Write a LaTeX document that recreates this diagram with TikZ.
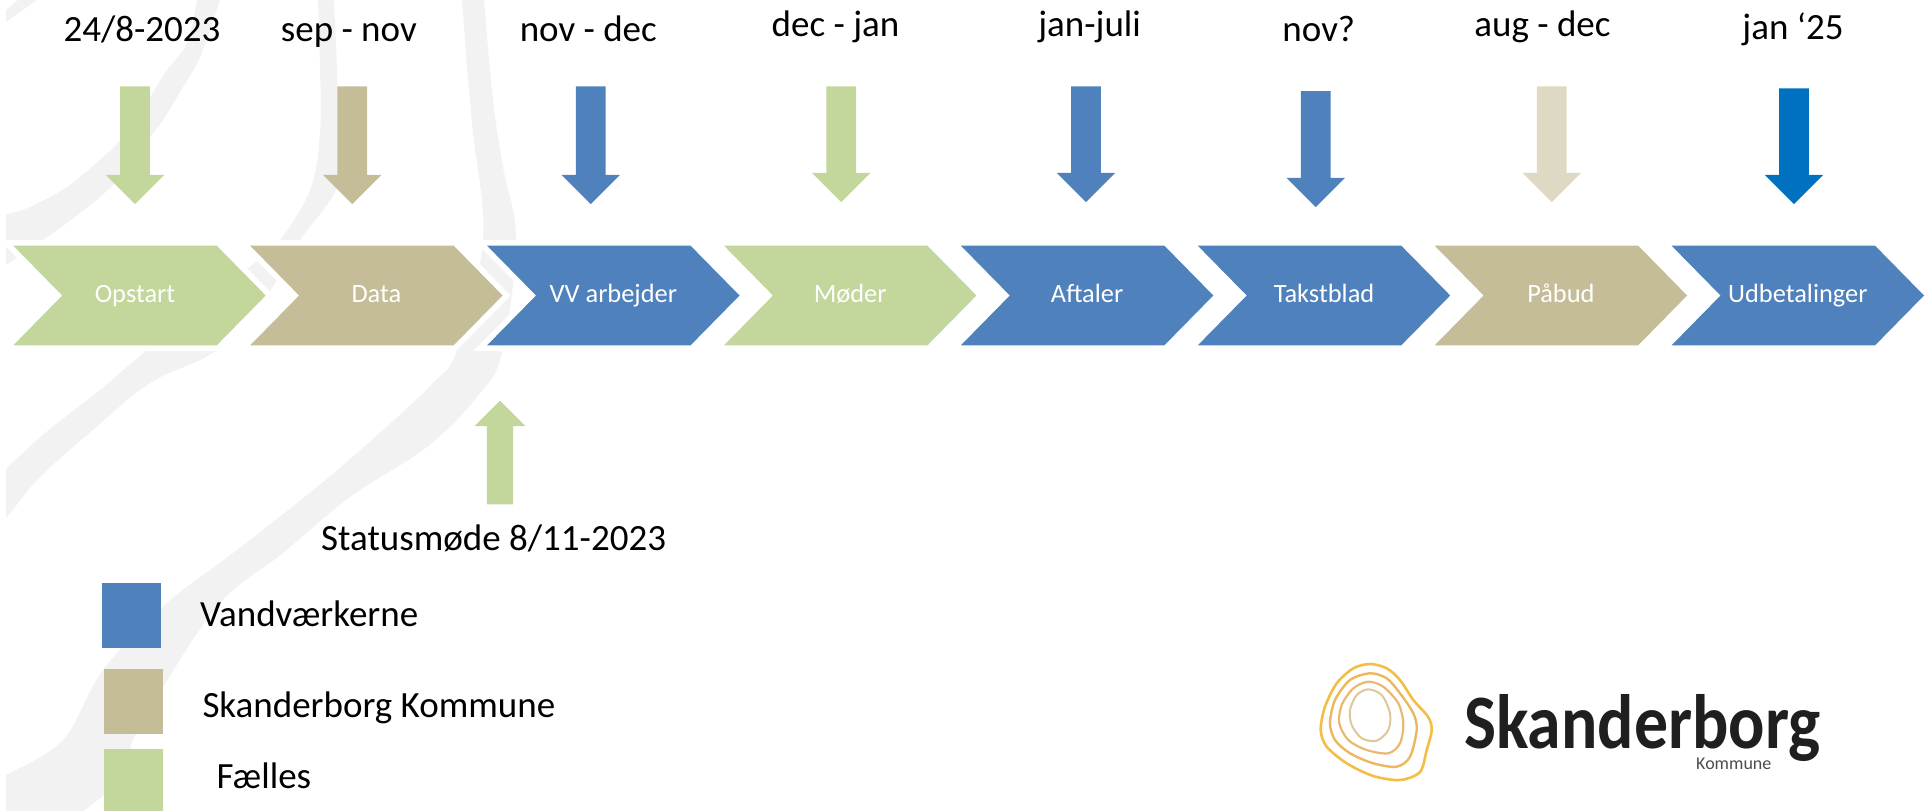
\documentclass[tikz,border=0pt]{standalone}
\usepackage{fontspec}
\setmainfont{Carlito}
\usetikzlibrary{shapes.arrows,shapes.symbols}
\definecolor{fgreen}{HTML}{C3D69B}
\definecolor{ftan}{HTML}{C4BD97}
\definecolor{fblue}{HTML}{4F81BD}
\definecolor{fpale}{HTML}{DDD9C3}
\definecolor{fdeep}{HTML}{0070C0}
\definecolor{fswoosh}{HTML}{F2F2F2}
\definecolor{ringa}{HTML}{F3BE45}
\definecolor{ringb}{HTML}{EDB75E}
\definecolor{ringc}{HTML}{E9B872}
\definecolor{ringd}{HTML}{DFC79C}
\begin{document}
\begin{tikzpicture}[x=1pt,y=1pt]
\tikzstyle{every node}+=[inner sep=0pt]
\tikzstyle{stepbase}=[shape=signal,signal from=west,signal to=east,signal pointer angle=91,minimum width=252.4,minimum height=99.6,text=white,text height=20,text depth=5.6,font=\fontsize{26.4}{30}\selectfont,preaction={draw=white,line width=11.4}]
\tikzstyle{downarrow}=[shape=single arrow,single arrow head extend=14.35,single arrow tip angle=90,single arrow head indent=0,text height=29.3,rotate=-90]
\tikzstyle{uparrow}=[shape=single arrow,single arrow head extend=12.3,single arrow tip angle=90,single arrow head indent=0,text height=26,rotate=90]
\tikzstyle{datetext}=[anchor=base,font=\fontsize{37}{40}\selectfont]
\tikzstyle{legendtext}=[anchor=base west,font=\fontsize{37}{40}\selectfont]
\useasboundingbox (0,0) rectangle (1930,-811);
\begin{scope}
\clip (6,0) rectangle (1930,-811);
\fill [fswoosh] (6,-10) -- (18,0) -- (37,0) -- (6,-22) -- cycle;
\fill [fswoosh] plot [smooth cycle,tension=0.6] coordinates {(-10,-225) (30,-207) (67,-187) (103,-157) (120,-140) (150,-97) (167,-70) (187,-43) (197,0) (198,10) (222,10) (220,0) (200,-57) (183,-87) (163,-120) (150,-137) (120,-177) (100,-197) (67,-223) (43,-240) (6,-265) (-10,-275)};
\fill [fswoosh] plot [smooth cycle,tension=0.6] coordinates {(318,10) (318,0) (320,-67) (320,-133) (310,-190) (280,-240) (252,-265) (147,-350) (100,-390) (37,-440) (-10,-490) (-10,-530) (6,-518) (40,-477) (93,-430) (150,-383) (217,-350) (267,-295) (300,-240) (337,-187) (338,-133) (337,-67) (334,0) (334,10)};
\fill [fswoosh] plot [smooth cycle,tension=0.6] coordinates {(461,10) (462,0) (467,-67) (473,-133) (483,-240) (457,-350) (433,-383) (383,-430) (317,-487) (233,-553) (167,-603) (103,-670) (63,-740) (6,-775) (-10,-785) (-10,-830) (50,-830) (120,-780) (133,-740) (163,-687) (220,-603) (283,-553) (350,-497) (427,-447) (477,-397) (502,-353) (516,-240) (503,-167) (493,-100) (484,0) (484,10)};
\end{scope}
\draw (139.5,-295.5) node (s1) [stepbase,fill=fgreen] {\hspace*{-9pt}Opstart};
\draw (376.4,-295.5) node (s2) [stepbase,fill=ftan] {Data};
\draw (613.3,-295.5) node (s3) [stepbase,fill=fblue] {VV arbejder};
\draw (850.2,-295.5) node (s4) [stepbase,fill=fgreen] {Møder};
\draw (1087.1,-295.5) node (s5) [stepbase,fill=fblue] {Aftaler};
\draw (1324,-295.5) node (s6) [stepbase,fill=fblue] {Takstblad};
\draw (1560.9,-295.5) node (s7) [stepbase,fill=ftan] {Påbud};
\draw (1797.8,-295.5) node (s8) [stepbase,fill=fblue] {Udbetalinger};
\draw (135,-137.85) node (a1) [downarrow,minimum height=117.7,fill=fgreen] {};
\draw (352.3,-137.85) node (a2) [downarrow,minimum height=117.7,fill=ftan] {};
\draw (590.7,-137.85) node (a3) [downarrow,minimum height=117.7,fill=fblue] {};
\draw (841.3,-136.85) node (a4) [downarrow,minimum height=115.7,fill=fgreen] {};
\draw (1086,-136.85) node (a5) [downarrow,minimum height=115.7,fill=fblue] {};
\draw (1315.7,-141.7) node (a6) [downarrow,minimum height=116,fill=fblue] {};
\draw (1551.7,-136.85) node (a7) [downarrow,minimum height=115.7,fill=fpale] {};
\draw (1794,-138.85) node (a8) [downarrow,minimum height=115.7,fill=fdeep] {};
\draw (500,-459) node (a9) [uparrow,minimum height=103.7,fill=fgreen] {};
\draw (142,-41.7) node (d1) [datetext] {24/8-2023};
\draw (348.8,-41) node (d2) [datetext] {sep - nov};
\draw (588.3,-41) node (d3) [datetext] {nov - dec};
\draw (835.5,-36) node (d4) [datetext] {dec - jan};
\draw (1089.7,-36) node (d5) [datetext] {jan-juli};
\draw (1318.8,-41) node (d6) [datetext] {nov?};
\draw (1542.5,-36) node (d7) [datetext] {aug - dec};
\draw (1793,-39) node (d8) [datetext] {jan ‘25};
\draw (321,-550) node (d9) [legendtext] {Statusmøde 8/11-2023};
\draw (102,-583) node (k1) [anchor=north west,minimum width=59,minimum height=64.7,fill=fblue] {};
\draw (104,-669) node (k2) [anchor=north west,minimum width=59,minimum height=64.7,fill=ftan] {};
\draw (104,-749) node (k3) [anchor=north west,minimum width=59,minimum height=62,fill=fgreen] {};
\draw (200,-626) node (t1) [legendtext] {Vandværkerne};
\draw (202.3,-717.7) node (t2) [legendtext] {Skanderborg Kommune};
\draw (216.5,-788) node (t3) [legendtext] {Fælles};
\draw [color=ringa,line width=2.6] plot [smooth cycle] coordinates {(1370,-664) (1386.7,-668.3) (1400,-680) (1413.3,-700) (1428,-716.7) (1431.7,-730) (1426.7,-750) (1420,-772) (1400,-780) (1373.3,-776) (1346.7,-763.3) (1326.7,-746.7) (1320.7,-730) (1325,-706.7) (1336.7,-683.3) (1353.3,-668.3)};
\draw [color=ringb,line width=2.4] plot [smooth cycle] coordinates {(1370,-673.3) (1386.7,-678.3) (1400,-693.3) (1413.3,-713.3) (1416.7,-730) (1410,-756.7) (1396.7,-766.7) (1373.3,-763.3) (1350,-753.3) (1335,-740) (1330,-723.3) (1335,-700) (1350,-680)};
\draw [color=ringc,line width=2.2] plot [smooth cycle] coordinates {(1368.3,-681.7) (1383.3,-686.7) (1398.3,-703.3) (1403.3,-723.3) (1400,-743.3) (1388.3,-753.3) (1366.7,-750) (1348.3,-740) (1339.3,-723.3) (1341.7,-705) (1353.3,-688.3)};
\draw [color=ringd,line width=2] plot [smooth cycle] coordinates {(1368.3,-689.3) (1381.7,-695) (1390,-713.3) (1388.3,-730) (1376.7,-740.7) (1361.7,-738.3) (1351.7,-725) (1350,-710) (1356.7,-695)};
\draw (1464,-748) node (l1) [anchor=base west,text=black!88,font=\fontsize{77}{80}\selectfont\bfseries] {\scalebox{0.88}[1]{Skanderborg}};
\draw (1696,-769) node (l2) [anchor=base west,text=black!70,font=\fontsize{18}{20}\selectfont] {Kommune};
\end{tikzpicture}
\end{document}
